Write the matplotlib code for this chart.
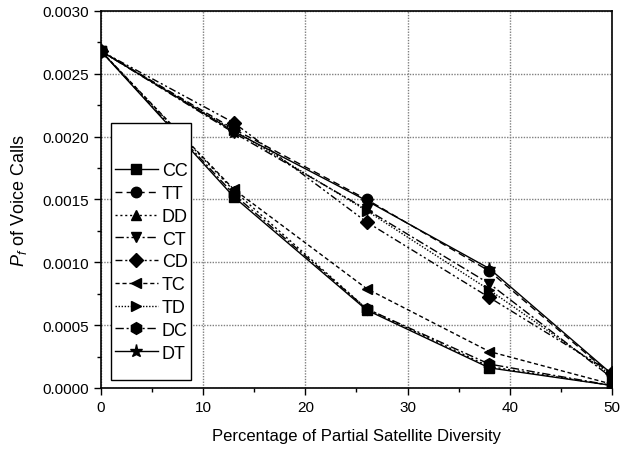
import matplotlib
matplotlib.use("Agg")
import matplotlib.pyplot as plt
from matplotlib.patches import Rectangle

plt.rcParams['font.family'] = ['Liberation Sans', 'DejaVu Sans']
plt.rcParams['mathtext.fontset'] = 'custom'
plt.rcParams['mathtext.rm'] = 'Liberation Sans'
plt.rcParams['mathtext.it'] = 'Liberation Sans:italic'

x = [0, 13, 26, 38, 50]
labels = ["CC", "TT", "DD", "CT", "CD", "TC", "TD", "DC", "DT"]
cc = [0.00268, 0.00152, 0.00062, 0.00016, 0.00002]
tt = [0.00268, 0.00206, 0.00150, 0.00093, 0.00010]
dd = [0.00268, 0.00157, 0.00063, 0.00017, 0.00002]
ct = [0.00268, 0.00203, 0.00142, 0.00083, 0.00008]
cd = [0.00268, 0.00211, 0.00132, 0.00072, 0.00012]
tc = [0.00268, 0.00158, 0.00079, 0.00029, 0.00003]
td = [0.00268, 0.00205, 0.00141, 0.00078, 0.00010]
dc = [0.00268, 0.00154, 0.00063, 0.00019, 0.00002]
dt = [0.00268, 0.00204, 0.00149, 0.00095, 0.00011]
series = [cc, tt, dd, ct, cd, tc, td, dc, dt]

markers = ['s', 'o', '^', 'v', 'D', '<', '>', 'h', '*']
styles = ['-', (0, (5, 3)), (0, (1.5, 2)), (0, (6, 2, 1.5, 2)), (0, (5, 2, 1.5, 2, 1.5, 2)),
          (0, (3, 2)), (0, (1, 1.2)), (0, (6, 2, 1.5, 2)), '-']
msizes = [7.5, 7.5, 7.5, 7.5, 7.5, 7.5, 7.5, 8.5, 9.5]

fig = plt.figure(figsize=(6.27, 4.56), dpi=100)
ax = fig.add_axes([0.161, 0.147, 0.815, 0.827])

for y, lab, m, ls, ms in zip(series, labels, markers, styles, msizes):
    ax.plot(x, y, color='black', linestyle=ls, linewidth=1.0, marker=m,
            markersize=ms, markerfacecolor='black', markeredgecolor='black', label=lab)

ax.set_xlim(0, 50)
ax.set_ylim(0, 0.0030)
ax.set_xticks([0, 10, 20, 30, 40, 50])
ax.set_yticks([0.0, 0.0005, 0.0010, 0.0015, 0.0020, 0.0025, 0.0030])
ax.set_yticklabels([f"{v:.4f}" for v in ax.get_yticks()])
ax.set_xticks([5, 15, 25, 35, 45], minor=True)
ax.set_yticks([0.00025, 0.00075, 0.00125, 0.00175, 0.00225, 0.00275], minor=True)
ax.tick_params(which='major', direction='out', length=5, width=1, labelsize=11)
ax.tick_params(which='minor', direction='out', length=3, width=1)
ax.grid(True, which='major', color='#808080', linestyle=(0, (1, 1)), linewidth=1)
for s in ax.spines.values():
    s.set_linewidth(1.2)

ax.set_xlabel("Percentage of Partial Satellite Diversity", fontsize=12, labelpad=10)
ax.set_ylabel(r"$P_f$ of Voice Calls", fontsize=13, labelpad=10)

# legend box (tall frame, tight horizontally)
box = Rectangle((0.0196, 0.021), 0.157, 0.682, transform=ax.transAxes,
                facecolor='white', edgecolor='black', linewidth=1.0, zorder=4.9,
                clip_on=False)
ax.add_patch(box)
leg = ax.legend(loc='upper left', bbox_to_anchor=(0.0196, 0.608), borderaxespad=0,
                fontsize=13, frameon=False, handlelength=2.4, handletextpad=0.22,
                labelspacing=0.32, borderpad=0.2)
leg.set_zorder(5)

fig.savefig("out.png", dpi=100)
